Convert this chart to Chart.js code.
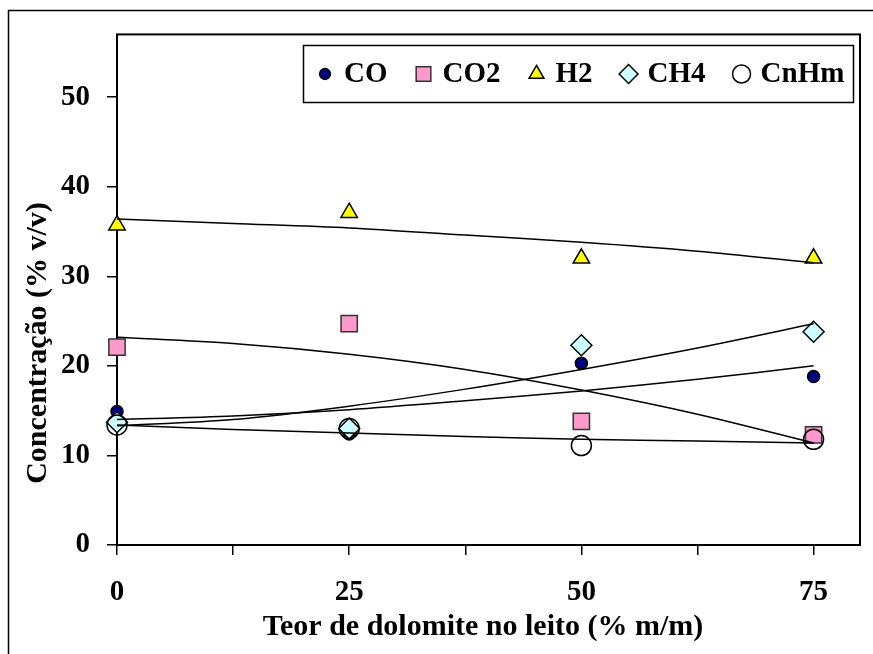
<!DOCTYPE html>
<html lang="pt">
<head>
<meta charset="UTF-8">
<title>Concentração vs teor de dolomite</title>
<style>
  body { margin: 0; background: #fff; }
  #chart { display: block; }
</style>
</head>
<body>
<canvas id="chart" width="873" height="654"></canvas>
<script src="https://cdn.jsdelivr.net/npm/chart.js@4/dist/chart.umd.min.js"></script>
<script>
// measured points
const dolomite = [0, 25, 50, 75];
const co   = [14.9, 12.4, 20.3, 18.8];
const co2  = [22.1, 24.7, 13.8, 12.3];
const h2   = [35.7, 37.1, 32.0, 32.0];
const ch4  = [13.7, 13.0, 22.3, 23.8];
const cnhm = [13.4, 13.0, 11.1, 11.8];

// trend lines
const trendX    = [0, 12.5, 25, 37.5, 50, 62.5, 75];
const coTrend   = [14.0, 14.4, 15.1, 16.1, 17.2, 18.5, 20.0];
const co2Trend  = [23.2, 22.5, 21.3, 19.6, 17.3, 14.6, 11.4];
const h2Trend   = [36.4, 35.9, 35.4, 34.6, 33.8, 32.8, 31.5];
const ch4Trend  = [13.3, 14.0, 15.5, 17.4, 19.6, 22.0, 24.7];
const cnhmTrend = [13.4, 12.9, 12.5, 12.1, 11.8, 11.6, 11.4];

const xTicks  = [0, 12.5, 25, 37.5, 50, 62.5, 75];
const xLabels = [0, 25, 50, 75];
const yTicks  = [0, 10, 20, 30, 40, 50];

const FONT = "'Liberation Serif', 'Times New Roman', serif";

const pts = (xs, ys) => ys.map((y, i) => ({ x: xs[i], y: y }));

// marker look for each series (legend order)
const series = [
  { label: 'CO',   data: co,   trend: coTrend,   style: 'circle',   radius: 6,    bg: '#000080', border: '#000' },
  { label: 'CO2',  data: co2,  trend: co2Trend,  style: 'rect',     radius: 11.5, bg: '#FF99CC', border: '#333' },
  { label: 'H2',   data: h2,   trend: h2Trend,   style: 'triangle', radius: 9.5,  bg: '#FFFF00', border: '#000' },
  { label: 'CH4',  data: ch4,  trend: ch4Trend,  style: 'rectRot',  radius: 10.5, bg: '#CCFFFF', border: '#000' },
  { label: 'CnHm', data: cnhm, trend: cnhmTrend, style: 'circle',   radius: 10,   bg: 'rgba(255,255,255,0)', border: '#000' }
];

const datasets = [];
series.forEach((s, i) => {
  datasets.push({
    label: s.label,
    data: pts(dolomite, s.data),
    pointStyle: s.style,
    pointRadius: s.radius,
    pointHoverRadius: s.radius,
    pointBackgroundColor: s.bg,
    pointBorderColor: s.border,
    pointBorderWidth: 1.5,
    showLine: false,
    clip: false,
    order: 5 - i
  });
});
series.forEach(s => {
  datasets.push({
    label: s.label + ' trend',
    data: pts(trendX, s.trend),
    showLine: true,
    pointRadius: 0,
    borderColor: '#000',
    borderWidth: 1.5,
    tension: 0.3,
    order: 0
  });
});

const framePlugin = {
  id: 'frame',
  beforeDraw(chart) {
    const ctx = chart.ctx;
    ctx.save();
    ctx.fillStyle = '#fff';
    ctx.fillRect(0, 0, chart.width, chart.height);
    ctx.strokeStyle = '#000';
    ctx.lineWidth = 1.5;
    ctx.strokeRect(8.5, 10.5, 900, 700);
    ctx.restore();
  },
  beforeDatasetsDraw(chart) {
    const a = chart.chartArea;
    const ctx = chart.ctx;
    ctx.save();
    ctx.strokeStyle = '#000';
    ctx.lineWidth = 2;
    ctx.strokeRect(a.left, a.top, a.right - a.left, a.bottom - a.top);
    ctx.restore();
  }
};

const titlesPlugin = {
  id: 'titles',
  afterDraw(chart) {
    const ctx = chart.ctx;
    ctx.save();
    ctx.fillStyle = '#000';
    ctx.font = 'bold 30px ' + FONT;
    ctx.textAlign = 'center';
    ctx.textBaseline = 'middle';
    ctx.fillText('Teor de dolomite no leito (% m/m)', 483, 627);
    ctx.translate(38, 343);
    ctx.rotate(-Math.PI / 2);
    ctx.fillText('Concentração (% v/v)', 0, 0);
    ctx.restore();
  }
};

const legendPlugin = {
  id: 'boxLegend',
  afterDraw(chart) {
    const ctx = chart.ctx;
    ctx.save();
    ctx.fillStyle = '#fff';
    ctx.fillRect(303, 45, 550, 57);
    ctx.strokeStyle = '#000';
    ctx.lineWidth = 1.5;
    ctx.strokeRect(303.5, 45.5, 550, 57);
    ctx.font = 'bold 29px ' + FONT;
    ctx.textBaseline = 'middle';
    ctx.textAlign = 'left';
    let x = 325;
    const y = 74;
    series.forEach(s => {
      ctx.fillStyle = s.label === 'CnHm' ? '#fff' : s.bg;
      ctx.strokeStyle = s.border;
      ctx.lineWidth = 1.5;
      Chart.helpers.drawPoint(ctx, { pointStyle: s.style, radius: s.radius * 0.9, borderWidth: 1.5, rotation: 0 }, x, y);
      ctx.fillStyle = '#000';
      ctx.fillText(s.label, x + 19, y + 1);
      x += 19 + ctx.measureText(s.label).width + 36;
    });
    ctx.restore();
  }
};

new Chart(document.getElementById('chart'), {
  type: 'scatter',
  data: { datasets: datasets },
  plugins: [framePlugin, titlesPlugin, legendPlugin],
  options: {
    responsive: false,
    animation: false,
    devicePixelRatio: 1,
    layout: { padding: { top: 33, right: 8, left: 0, bottom: 0 } },
    plugins: { legend: { display: false }, tooltip: { enabled: false } },
    scales: {
      x: {
        type: 'linear',
        min: 0,
        max: 80,
        afterBuildTicks: s => { s.ticks = xTicks.map(v => ({ value: v })); },
        afterFit: s => { s.height = 109; },
        ticks: {
          autoSkip: false,
          maxRotation: 0,
          padding: 20,
          color: '#000',
          font: { family: FONT, size: 29, weight: 'bold' },
          callback: v => xLabels.includes(v) ? String(v) : ''
        },
        grid: { drawOnChartArea: false, drawTicks: true, tickLength: 10, color: '#000', lineWidth: 1.5 },
        border: { display: false }
      },
      y: {
        min: 0,
        max: 57,
        afterBuildTicks: s => { s.ticks = yTicks.map(v => ({ value: v })); },
        afterFit: s => { s.width = 117; },
        ticks: {
          padding: 17,
          color: '#000',
          font: { family: FONT, size: 29, weight: 'bold' }
        },
        grid: { drawOnChartArea: false, drawTicks: true, tickLength: 10, color: '#000', lineWidth: 1.5 },
        border: { display: false }
      }
    }
  }
});
</script>
</body>
</html>
